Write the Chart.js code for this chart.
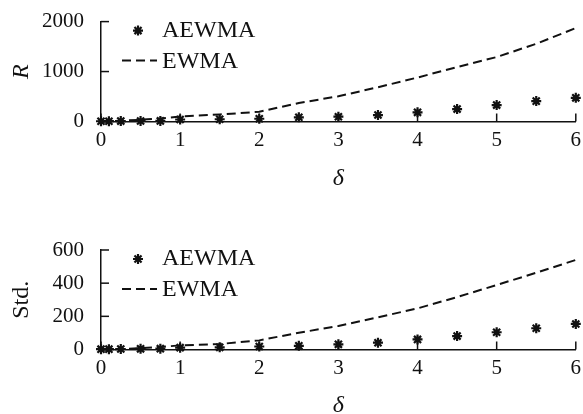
<!DOCTYPE html>
<html><head><meta charset="utf-8">
<script src="https://cdn.jsdelivr.net/npm/chart.js@4/dist/chart.umd.min.js"></script>
<style>
html,body{margin:0;padding:0;background:#fff;overflow:hidden;}
.wrap{position:relative;width:583px;height:207px;}
canvas{display:block;}
</style>
</head><body>
<div class="wrap"><canvas id="c1"></canvas></div>
<div class="wrap"><canvas id="c2"></canvas></div>
<script>
// ---- data ----
const deltas   = [0, 0.1, 0.25, 0.5, 0.75, 1, 1.5, 2, 2.5, 3, 3.5, 4, 4.5, 5, 5.5, 6];
const aewmaR   = [5, 6, 8, 10, 12, 40, 45, 55, 84, 96, 129, 183, 249, 328, 408, 474];
const ewmaR    = [0, 5, 15, 35, 60, 100, 140, 195, 370, 505, 686, 880, 1090, 1290, 1556, 1870];
const aewmaStd = [2, 2, 3, 4, 5, 11, 13, 18, 22, 31, 41, 61, 81, 104, 128, 154];
const ewmaStd  = [0, 1, 3, 8, 15, 25, 33, 55, 101, 142, 194, 248, 316, 389, 463, 540];
const xTicks   = [0, 1, 2, 3, 4, 5, 6];
const rTicks   = [0, 1000, 2000];
const stdTicks = [0, 200, 400, 600];
const seriesNames = ['AEWMA', 'EWMA'];

const SERIF = "'Liberation Serif','DejaVu Serif',serif";
const INK = '#111';

function drawStar(ctx, cx, cy, r) {
  ctx.beginPath();
  for (let k = 0; k < 4; k++) {
    const ang = k * Math.PI / 4;
    const dx = Math.cos(ang) * r, dy = Math.sin(ang) * r;
    ctx.moveTo(cx - dx, cy - dy);
    ctx.lineTo(cx + dx, cy + dy);
  }
  ctx.stroke();
}

const decor = {
  id: 'decor',
  afterDraw(chart) {
    const {ctx, scales: {x, y}, chartArea: a} = chart;
    ctx.save();
    ctx.strokeStyle = INK;
    ctx.lineWidth = 1.5;
    // inward tick marks
    x.ticks.forEach(t => {
      const px = x.getPixelForValue(t.value);
      ctx.beginPath(); ctx.moveTo(px, a.bottom); ctx.lineTo(px, a.bottom - 8); ctx.stroke();
    });
    y.ticks.forEach(t => {
      const py = y.getPixelForValue(t.value);
      ctx.beginPath(); ctx.moveTo(a.left, py); ctx.lineTo(a.left + 8, py); ctx.stroke();
    });
    // legend inside plot
    const ds = chart.data.datasets;
    const lx = a.left + 21, tx = a.left + 61;
    ctx.lineWidth = 2.2;
    drawStar(ctx, a.left + 37, a.top + 9, 5);
    ctx.lineWidth = 2;
    ctx.setLineDash([9, 5]);
    ctx.beginPath(); ctx.moveTo(lx, a.top + 39); ctx.lineTo(lx + 35, a.top + 39); ctx.stroke();
    ctx.setLineDash([]);
    ctx.fillStyle = INK;
    ctx.font = "24px " + SERIF;
    ctx.textBaseline = 'alphabetic';
    ctx.textAlign = 'left';
    ctx.fillText(ds[0].label, tx, a.top + 15);
    ctx.fillText(ds[1].label, tx, a.top + 46);
    ctx.restore();
  }
};

function makeChart(id, aew, ew, yMax, yTicks, yTitle, yItalic, padTop, xHeight, titlePadBottom) {
  return new Chart(document.getElementById(id), {
    data: {
      datasets: [
        { type: 'scatter', label: seriesNames[0],
          data: deltas.map((d, i) => ({x: d, y: aew[i]})),
          pointStyle: 'star', pointRadius: 5, pointBorderWidth: 2.2,
          borderColor: INK, backgroundColor: INK, clip: false, order: 0 },
        { type: 'line', label: seriesNames[1],
          data: deltas.map((d, i) => ({x: d, y: ew[i]})),
          borderColor: INK, borderWidth: 2, borderDash: [9, 5],
          pointRadius: 0, tension: 0, fill: false, clip: false, order: 1 }
      ]
    },
    options: {
      responsive: true, maintainAspectRatio: false, animation: false, devicePixelRatio: 1,
      layout: { padding: { top: padTop, right: 6, left: 0, bottom: 0 } },
      plugins: { legend: { display: false }, tooltip: { enabled: false } },
      scales: {
        x: {
          type: 'linear', min: 0, max: 6,
          afterBuildTicks: s => { s.ticks = xTicks.map(v => ({value: v})); },
          afterFit: s => { s.height = xHeight; },
          grid: { display: false },
          border: { display: true, color: INK, width: 1.5 },
          ticks: { color: INK, font: { family: SERIF, size: 21 }, padding: -2, maxRotation: 0,
                   callback: v => String(v) },
          title: { display: true, text: 'δ', color: INK,
                   font: { family: SERIF, size: 24, style: 'italic', lineHeight: 1 },
                   padding: { top: 0, bottom: titlePadBottom } }
        },
        y: {
          type: 'linear', min: 0, max: yMax,
          afterBuildTicks: s => { s.ticks = yTicks.map(v => ({value: v})); },
          afterFit: s => { s.width = 101; },
          grid: { display: false },
          border: { display: true, color: INK, width: 1.5 },
          ticks: { color: INK, font: { family: SERIF, size: 21 }, padding: 9,
                   callback: v => String(v) },
          title: { display: true, text: yTitle, color: INK,
                   font: { family: SERIF, size: 24, style: yItalic ? 'italic' : 'normal' },
                   padding: { top: 7, bottom: 0 } }
        }
      }
    },
    plugins: [decor]
  });
}

makeChart('c1', aewmaR, ewmaR, 2000, rTicks, 'R', true, 21, 85.5, 16);
makeChart('c2', aewmaStd, ewmaStd, 600, stdTicks, 'Std.', false, 43, 64.5, -4);
</script>
</body></html>
